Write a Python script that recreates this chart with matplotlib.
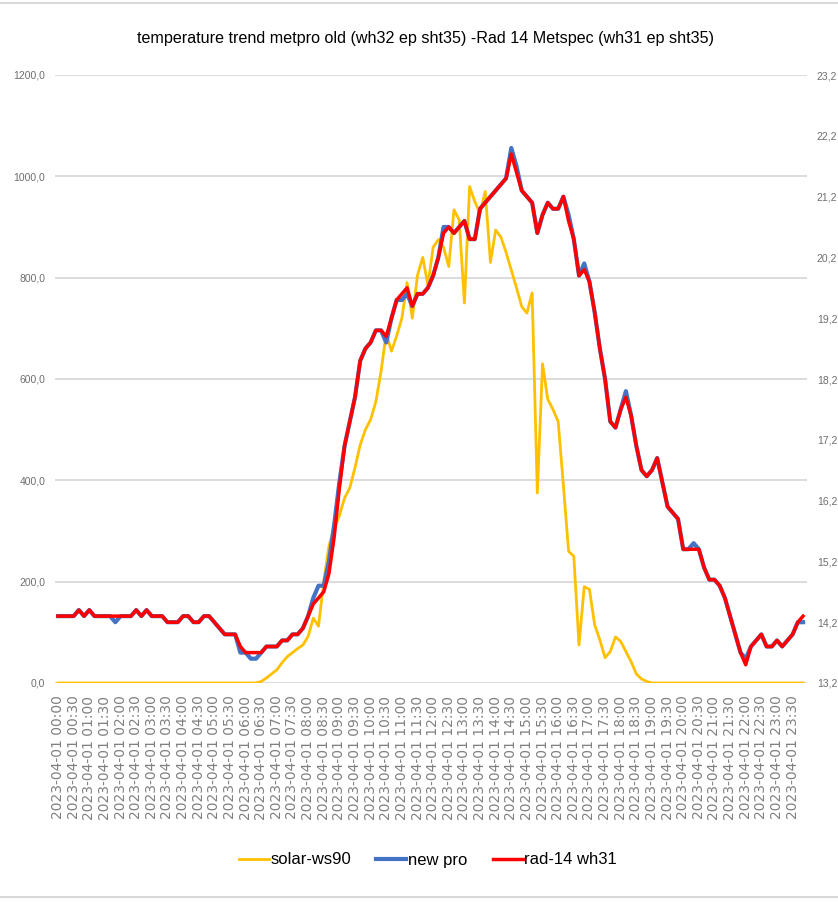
import numpy as np
import pandas as pd
import matplotlib
matplotlib.use('Agg')
import matplotlib.pyplot as plt
from matplotlib.ticker import FuncFormatter
from matplotlib.lines import Line2D

plt.rcParams['font.family'] = ['Liberation Sans', 'DejaVu Sans']

#############################################################################
# data (10 min steps, 2023-04-01)
#############################################################################

title = 'temperature trend metpro old (wh32 ep sht35) -Rad 14 Metspec (wh31 ep sht35)'
series_names = ['solar-ws90', 'new pro', 'rad-14 wh31']

# solar-ws90 (left axis, W/m2)
solar = [
    0, 0, 0, 0, 0, 0,
    0, 0, 0, 0, 0, 0,
    0, 0, 0, 0, 0, 0,
    0, 0, 0, 0, 0, 0,
    0, 0, 0, 0, 0, 0,
    0, 0, 0, 0, 0, 0,
    0, 0, 0, 3, 10, 18,
    26, 40, 52, 60, 68, 75,
    92, 128, 112, 200, 270, 305,
    330, 365, 385, 425, 470, 500,
    520, 555, 615, 690, 655, 685,
    720, 790, 720, 805, 840, 785,
    860, 875, 860, 822, 934, 914,
    750, 980, 950, 927, 970, 830,
    894, 880, 850, 815, 780, 743,
    730, 770, 375, 630, 560, 540,
    516, 390, 260, 250, 75, 190,
    185, 115, 85, 50, 62, 91,
    82, 62, 42, 18, 8, 3,
    0, 0, 0, 0, 0, 0,
    0, 0, 0, 0, 0, 0,
    0, 0, 0, 0, 0, 0,
    0, 0, 0, 0, 0, 0,
    0, 0, 0, 0, 0, 0,
]

# new pro (right axis, degC)
new_pro = [
    14.3, 14.3, 14.3, 14.3, 14.4, 14.3,
    14.4, 14.3, 14.3, 14.3, 14.3, 14.2,
    14.3, 14.3, 14.3, 14.4, 14.3, 14.4,
    14.3, 14.3, 14.3, 14.2, 14.2, 14.2,
    14.3, 14.3, 14.2, 14.2, 14.3, 14.3,
    14.2, 14.1, 14.0, 14.0, 14.0, 13.7,
    13.7, 13.6, 13.6, 13.7, 13.8, 13.8,
    13.8, 13.9, 13.9, 14.0, 14.0, 14.1,
    14.3, 14.6, 14.8, 14.8, 15.2, 15.8,
    16.5, 17.1, 17.5, 17.9, 18.5, 18.7,
    18.8, 19.0, 19.0, 18.8, 19.2, 19.5,
    19.5, 19.6, 19.4, 19.6, 19.6, 19.7,
    19.9, 20.2, 20.7, 20.7, 20.6, 20.7,
    20.8, 20.5, 20.5, 21.0, 21.1, 21.2,
    21.3, 21.4, 21.5, 22.0, 21.7, 21.3,
    21.2, 21.1, 20.6, 20.9, 21.1, 21.0,
    21.0, 21.2, 20.9, 20.5, 19.9, 20.1,
    19.8, 19.3, 18.7, 18.2, 17.5, 17.4,
    17.7, 18.0, 17.6, 17.1, 16.7, 16.6,
    16.7, 16.9, 16.5, 16.1, 16.0, 15.9,
    15.4, 15.4, 15.5, 15.4, 15.1, 14.9,
    14.9, 14.8, 14.6, 14.3, 14.0, 13.7,
    13.6, 13.8, 13.9, 14.0, 13.8, 13.8,
    13.9, 13.8, 13.9, 14.0, 14.2, 14.2,
]

# rad-14 wh31 (right axis, degC)
rad14 = [
    14.3, 14.3, 14.3, 14.3, 14.4, 14.3,
    14.4, 14.3, 14.3, 14.3, 14.3, 14.3,
    14.3, 14.3, 14.3, 14.4, 14.3, 14.4,
    14.3, 14.3, 14.3, 14.2, 14.2, 14.2,
    14.3, 14.3, 14.2, 14.2, 14.3, 14.3,
    14.2, 14.1, 14.0, 14.0, 14.0, 13.8,
    13.7, 13.7, 13.7, 13.7, 13.8, 13.8,
    13.8, 13.9, 13.9, 14.0, 14.0, 14.1,
    14.3, 14.5, 14.6, 14.7, 15.0, 15.6,
    16.4, 17.1, 17.5, 17.9, 18.5, 18.7,
    18.8, 19.0, 19.0, 18.9, 19.2, 19.5,
    19.6, 19.7, 19.4, 19.6, 19.6, 19.7,
    19.9, 20.2, 20.6, 20.7, 20.6, 20.7,
    20.8, 20.5, 20.5, 21.0, 21.1, 21.2,
    21.3, 21.4, 21.5, 21.9, 21.6, 21.3,
    21.2, 21.1, 20.6, 20.9, 21.1, 21.0,
    21.0, 21.2, 20.8, 20.5, 19.9, 20.0,
    19.8, 19.3, 18.7, 18.2, 17.5, 17.4,
    17.7, 17.9, 17.6, 17.1, 16.7, 16.6,
    16.7, 16.9, 16.5, 16.1, 16.0, 15.9,
    15.4, 15.4, 15.4, 15.4, 15.1, 14.9,
    14.9, 14.8, 14.6, 14.3, 14.0, 13.7,
    13.5, 13.8, 13.9, 14.0, 13.8, 13.8,
    13.9, 13.8, 13.9, 14.0, 14.2, 14.3,
]

times = pd.date_range('2023-04-01 00:00', periods=len(solar), freq='10min')
x = np.arange(len(times))
tick_pos = x[::3]
tick_labels = times[::3].strftime('%Y-%m-%d %H:%M')

#############################################################################
# plot
#############################################################################

W, H = 838, 902
fig = plt.figure(figsize=(W / 100, H / 100), dpi=100)
ax = fig.add_axes([55 / W, 1 - 683 / H, (807 - 55) / W, (683 - 75) / H])
ax2 = ax.twinx()

l1, = ax.plot(x, solar, color='#FFC000', lw=2.0, solid_joinstyle='round')
l2, = ax2.plot(x, new_pro, color='#4472C4', lw=3.0, solid_joinstyle='round')
l3, = ax2.plot(x, rad14, color='#FF0000', lw=2.5, solid_joinstyle='round')

ax.set_xlim(-0.58, 143.76)
ax.set_ylim(0, 1200)
ax2.set_ylim(13.2, 23.2)

comma = FuncFormatter(lambda v, p: f'{v:.1f}'.replace('.', ','))
ax.set_yticks(np.arange(0, 1201, 200))
ax2.set_yticks(np.arange(13.2, 23.3, 1.0))
ax.yaxis.set_major_formatter(comma)
ax2.yaxis.set_major_formatter(comma)

ax.yaxis.grid(True, color='#D9D9D9', lw=1.3)
ax.set_axisbelow(True)
for a in (ax, ax2):
    for s in a.spines.values():
        s.set_visible(False)

ax.set_xticks(tick_pos)
ax.set_xticklabels(tick_labels, rotation=90, ha='center', va='top',
                   fontsize=10, color='#808080', family='DejaVu Sans')
ax.tick_params(axis='x', length=0, pad=9)
ax.tick_params(axis='y', length=0, pad=7, labelsize=7.5, labelcolor='#6E6E6E')
ax2.tick_params(axis='y', length=0, pad=7, labelsize=7.5, labelcolor='#6E6E6E')

fig.text(425 / W, 1 - 38 / H, title, ha='center', va='center', fontsize=11.6, color='#000000')

fig.legend([l1, l2, l3], series_names, loc='center', bbox_to_anchor=(428 / W, 1 - 860 / H),
           ncol=3, frameon=False, fontsize=12, handlelength=1.8, columnspacing=1.5,
           handletextpad=0.1)

fig.add_artist(Line2D([0, 1], [0.997, 0.997], color='#D9D9D9', lw=1.5, transform=fig.transFigure))
fig.add_artist(Line2D([0, 1], [1 - 897 / H] * 2, color='#D9D9D9', lw=1.5, transform=fig.transFigure))

fig.savefig('out.png', dpi=100)
